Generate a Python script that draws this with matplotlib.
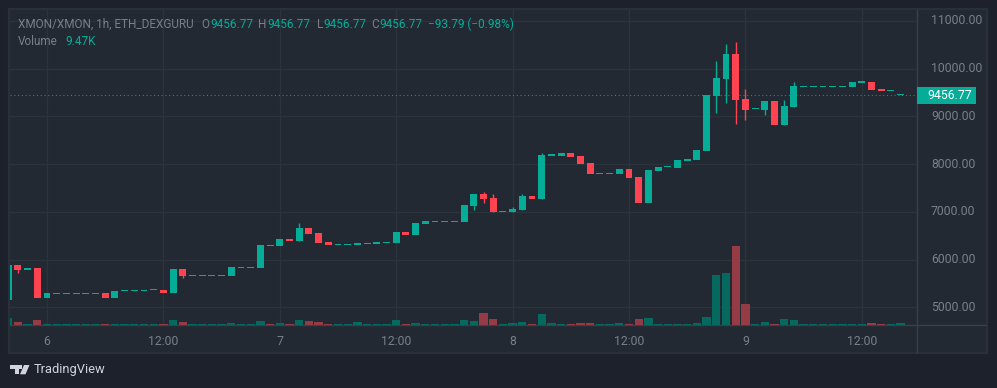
import matplotlib
matplotlib.use("Agg")
import matplotlib.pyplot as plt
from matplotlib.patches import Rectangle, Polygon

plt.rcParams['font.family'] = ['Roboto', 'DejaVu Sans']

# hour offsets from the start of day 6
first_hour = -4
opens = [5152, 5886, 5781, 5822, 5194, 5285, 5285, 5285, 5285, 5285, 5300, 5194, 5335, 5340, 5340, 5365,
         5365, 5300, 5800, 5650, 5650, 5650, 5650, 5655, 5830, 5830, 5825, 6305, 6285, 6430, 6390, 6660,
         6555, 6370, 6310, 6310, 6305, 6335, 6325, 6355, 6345, 6575, 6515, 6745, 6795, 6795, 6795, 6790,
         7125, 7375, 7290, 7000, 7000, 7040, 7330, 7270, 8180, 8170, 8230, 8170, 8020, 7795, 7795, 7795,
         7900, 7730, 7185, 7855, 7930, 7925, 8066, 8087, 8275, 9428, 9784, 10308, 9365, 9145, 9135, 9323,
         8820, 9197, 9625, 9625, 9625, 9625, 9625, 9617, 9710, 9722, 9575, 9535, 9450]
closes = [5886, 5781, 5822, 5194, 5300, 5300, 5300, 5300, 5300, 5300, 5194, 5340, 5350, 5355, 5365, 5380,
          5300, 5800, 5655, 5665, 5665, 5665, 5665, 5845, 5845, 5845, 6305, 6285, 6430, 6390, 6660, 6535,
          6345, 6305, 6325, 6325, 6345, 6350, 6365, 6370, 6575, 6515, 6765, 6810, 6810, 6810, 6810, 7145,
          7375, 7270, 7000, 7015, 7060, 7330, 7270, 8190, 8195, 8230, 8150, 8000, 7795, 7810, 7810, 7900,
          7710, 7185, 7880, 7940, 7945, 8087, 8107, 8296, 9449, 9805, 10308, 9344, 9135, 9160, 9323, 8820,
          9218, 9638, 9640, 9640, 9640, 9640, 9640, 9722, 9725, 9554, 9533, 9550, 9463]
wick_hours = [-3, 14, 26, 44, 45, 46, 48, 49, 51, 69, 70, 71, 72, 74, 76, 77]
wick_highs = [5886, 5800, 6766, 7375, 7415, 7375, 7100, 7375, 8230, 10160, 10518, 10560, 9575, 9323, 9344, 9722]
wick_lows = [5725, 5612, 6390, 7040, 7185, 7000, 7000, 7040, 7270, 9070, 9281, 8841, 8925, 9030, 8820, 9197]
volumes_k = [34, 15.5, 5.6, 25, 4.7, 4.7, 4.7, 4.7, 4.7, 4.7, 4.7, 4.7, 4.7, 4.7, 4.7, 4.7,
             4.7, 25, 15.5, 4.7, 4.7, 4.7, 4.7, 10.8, 4.7, 4.7, 20, 4.7, 10.8, 4.7, 25, 20,
             15.5, 6, 4.7, 4.7, 15.5, 4.7, 4.7, 4.7, 25, 5.6, 10.8, 4.7, 4.7, 4.7, 4.7, 25,
             20, 58, 30, 4.7, 10.8, 15.5, 4.7, 53, 10.8, 4.7, 4.7, 10.8, 10.8, 4.7, 4.7, 10.8,
             4.7, 30, 34, 4.7, 4.7, 4.7, 4.7, 9.4, 37.6, 235, 244, 371, 99, 4.7, 14, 4.7,
             28, 23.5, 4.7, 4.7, 4.7, 4.7, 4.7, 4.7, 4.7, 9.4, 4.7, 4.7, 9.47]
hours = list(range(first_hour, first_hour + len(opens)))

price_ticks = [5000, 6000, 7000, 8000, 9000, 10000, 11000]
time_ticks = [0, 12, 24, 36, 48, 60, 72, 84]
time_labels = ['6', '12:00', '7', '12:00', '8', '12:00', '9', '12:00']
last_price = 9456.77

GREEN = '#05ad98'
RED = '#ff4350'
VGREEN = '#05695f'
VRED = '#943b45'
OUTER = '#1d212c'
PANE = '#222933'
GRID = '#2b333d'
FRAME = '#2a303b'
AXLINE = '#3a4049'
TXT = '#7b7f86'

W, H = 997, 388
fig = plt.figure(figsize=(W / 100, H / 100), dpi=100, facecolor=OUTER)


def rect(l, t, r, b):
    return [l / W, 1 - b / H, (r - l) / W, (b - t) / H]


bg = fig.add_axes([0, 0, 1, 1], zorder=0)
bg.set_xlim(0, W)
bg.set_ylim(H, 0)
bg.axis('off')
bg.add_patch(Rectangle((9, 9), 978, 344, fc=PANE, ec=FRAME, lw=1.6))
bg.plot([917, 917], [10, 352], color=AXLINE, lw=1)
bg.plot([10, 986], [325, 325], color=AXLINE, lw=1)

ax = fig.add_axes(rect(10, 10, 917, 325), zorder=1)
ax.patch.set_alpha(0)
ax.set_xlim((10 - 47) / 9.7, (917 - 47) / 9.7)
ax.set_ylim(4628, 11230)
for s in ax.spines.values():
    s.set_visible(False)
ax.set_xticks(time_ticks, time_labels)
ax.set_yticks(price_ticks, [f'{p:.2f}' for p in price_ticks])
ax.yaxis.tick_right()
ax.tick_params(axis='both', length=0, colors=TXT, labelsize=8.8)
ax.tick_params(axis='y', pad=10)
ax.tick_params(axis='x', pad=7)
ax.grid(True, color=GRID, lw=1)
ax.set_axisbelow(True)
for lab in ax.get_yticklabels():
    lab.set_y(lab.get_position()[1])
    lab.set_verticalalignment('center')

vol = fig.add_axes(rect(10, 10, 917, 325), zorder=2)
vol.patch.set_alpha(0)
vol.axis('off')
vol.set_xlim(ax.get_xlim())
vol.set_ylim(0, 315 * 4.7)
vcolors = [VGREEN if c >= o else VRED for o, c in zip(opens, closes)]
vol.bar(hours, volumes_k, width=0.86, color=vcolors, lw=0)

top = fig.add_axes(rect(10, 10, 917, 325), zorder=3)
top.patch.set_alpha(0)
top.axis('off')
top.set_xlim(ax.get_xlim())
top.set_ylim(ax.get_ylim())
colors = [GREEN if c >= o else RED for o, c in zip(opens, closes)]
for h, hi, lo in zip(wick_hours, wick_highs, wick_lows):
    top.vlines(h, lo, hi, color=colors[h - first_hour], lw=1)
# a candle body is never thinner than about one pixel
heights = [max(abs(c - o), 22) for o, c in zip(opens, closes)]
bottoms = [min(o, c) for o, c in zip(opens, closes)]
top.bar(hours, heights, bottom=bottoms, width=0.72, color=colors, lw=0)
top.axhline(last_price, color=GREEN, lw=0.8, ls=(0, (1, 2.4)), alpha=0.8)

ov = fig.add_axes([0, 0, 1, 1], zorder=4)
ov.patch.set_alpha(0)
ov.set_xlim(0, W)
ov.set_ylim(H, 0)
ov.axis('off')
ov.add_patch(Rectangle((917, 87), 58.5, 17, fc=GREEN, lw=0))
ov.text(927, 95.5, f'{last_price:.2f}', color='white', fontsize=8.8, va='center', ha='left')

FS = 8.45
for x, y, s, c in [(18, 24, 'XMON/XMON, 1h, ETH_DEXGURU', TXT), (201.5, 24, 'O', TXT), (210, 24, '9456.77', GREEN),
                   (258, 24, 'H', TXT), (267, 24, '9456.77', GREEN), (316.5, 24, 'L', TXT), (323, 24, '9456.77', GREEN),
                   (371.5, 24, 'C', TXT), (379, 24, '9456.77', GREEN), (428, 24, '−93.79 (−0.98%)', GREEN),
                   (18, 41.5, 'Volume', TXT), (65, 41.5, '9.47K', GREEN)]:
    ov.text(x, y, s, color=c, fontsize=FS, va='center', ha='left')

LOGO = '#d1d4dc'
ov.add_patch(Polygon([(10, 365), (18.5, 365), (18.5, 374.3), (14.5, 374.3), (14.5, 369.3), (10, 369.3)], fc=LOGO, lw=0))
ov.add_patch(Polygon([(19.3, 365), (22.3, 365), (22.3, 368.5), (19.3, 368.5)], fc=LOGO, lw=0))
ov.add_patch(Polygon([(24, 365), (29.5, 365), (25.5, 374.3), (20, 374.3)], fc=LOGO, lw=0))
ov.text(33.5, 370, 'TradingView', color=LOGO, fontsize=9.3, va='center', ha='left')

fig.savefig('out.png', dpi=100, facecolor=OUTER)
